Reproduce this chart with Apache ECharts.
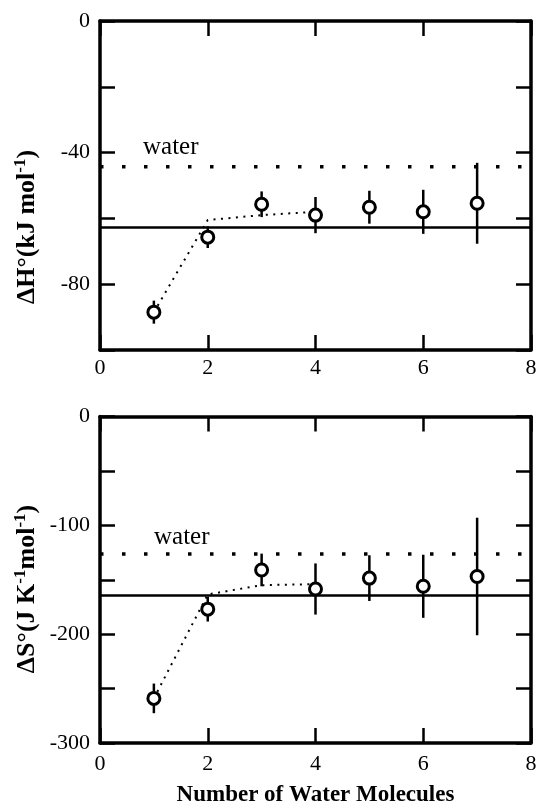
<!DOCTYPE html>
<html>
<head>
<meta charset="utf-8">
<script src="https://cdn.jsdelivr.net/npm/echarts@6/dist/echarts.min.js"></script>
<style>
  html, body { margin: 0; padding: 0; background: #fff; }
  #chart { width: 542px; height: 808px; }
</style>
</head>
<body>
<div id="chart"></div>
<script>
// Number of water molecules in the cluster
const waterCounts = [1, 2, 3, 4, 5, 6, 7];

// Enthalpy of each hydration step (kJ/mol) and its uncertainty
const enthalpy = [-88.5, -65.7, -55.7, -59.0, -56.6, -58.0, -55.4];
const enthalpyErr = [3.5, 3.3, 3.9, 5.5, 5.0, 6.7, 12.3];

// Entropy of each hydration step (J/K/mol) and its uncertainty
const entropy = [-259, -177, -141, -158.5, -148.5, -156, -147];
const entropyErr = [13.6, 11.4, 15, 23.5, 21, 29, 54];

// Dotted guide through the first steps
const fitCounts = [1, 2, 3, 4];
const enthalpyFit = [-88.5, -60.5, -59, -58];
const entropyFit = [-259, -163.5, -155, -154];

// Reference levels: bulk water (dotted) and limiting value (solid)
const waterEnthalpy = -44.3;
const limitEnthalpy = -62.8;
const waterEntropy = -126.4;
const limitEntropy = -164.5;

// Tick labels
const xTickLabels = [0, 2, 4, 6, 8];
const enthalpyTickLabels = [0, -40, -80];
const entropyTickLabels = [0, -100, -200, -300];

const SERIF = '"Liberation Serif", "Times New Roman", serif';
const BLACK = '#000';

function frameAxes(gridIndex, yMin, yInterval, yLabels, xLabelMargin, xName) {
  const line = { onZero: false, lineStyle: { color: BLACK, width: 3.5 } };
  const tick = { inside: true, length: 15, lineStyle: { color: BLACK, width: 2.5 } };
  const label = {
    color: BLACK, fontFamily: SERIF, fontSize: 22
  };
  const x = [
    {
      gridIndex, type: 'value', min: 0, max: 8, interval: 2, position: 'bottom',
      axisLine: line, axisTick: tick, splitLine: { show: false },
      axisLabel: Object.assign({ margin: xLabelMargin, formatter: v => xTickLabels.includes(v) ? String(v) : '' }, label),
      name: xName || '', nameLocation: 'middle', nameGap: 41,
      nameTextStyle: { color: BLACK, fontFamily: SERIF, fontSize: 23, fontWeight: 'bold' }
    },
    {
      gridIndex, type: 'value', min: 0, max: 8, interval: 2, position: 'top',
      axisLine: line, axisTick: tick, splitLine: { show: false },
      axisLabel: { show: false }
    }
  ];
  const y = [
    {
      gridIndex, type: 'value', min: yMin, max: 0, interval: yInterval, position: 'left',
      axisLine: line, axisTick: tick, splitLine: { show: false },
      axisLabel: Object.assign({ margin: 10, formatter: v => yLabels.includes(v) ? String(v) : '' }, label)
    },
    {
      gridIndex, type: 'value', min: yMin, max: 0, interval: yInterval, position: 'right',
      axisLine: line, axisTick: tick, splitLine: { show: false },
      axisLabel: { show: false }
    }
  ];
  return { x, y };
}

function panelSeries(panel, values, errors, fit, waterLevel, limitLevel) {
  const axes = { xAxisIndex: panel * 2, yAxisIndex: panel * 2 };
  return [
    Object.assign({
      type: 'line', data: [[0, waterLevel], [8, waterLevel]], symbol: 'none', silent: true,
      lineStyle: { color: BLACK, width: 3.5, type: [3.5, 18.5] }, z: 2
    }, axes),
    Object.assign({
      type: 'line', data: [[0, limitLevel], [8, limitLevel]], symbol: 'none', silent: true,
      lineStyle: { color: BLACK, width: 2.5 }, z: 2
    }, axes),
    Object.assign({
      type: 'line', data: fitCounts.map((n, i) => [n, fit[i]]), symbol: 'none', silent: true,
      lineStyle: { color: BLACK, width: 2, type: [2, 5.5] }, z: 3
    }, axes),
    Object.assign({
      type: 'custom', z: 4, silent: true,
      data: waterCounts.map((n, i) => [n, values[i] - errors[i], values[i] + errors[i]]),
      encode: { x: 0, y: [1, 2] },
      renderItem: (params, api) => {
        const p1 = api.coord([api.value(0), api.value(1)]);
        const p2 = api.coord([api.value(0), api.value(2)]);
        return {
          type: 'line',
          shape: { x1: p1[0], y1: p1[1], x2: p2[0], y2: p2[1] },
          style: { stroke: BLACK, lineWidth: 2.5 }
        };
      }
    }, axes),
    Object.assign({
      type: 'scatter', z: 5, symbol: 'circle', symbolSize: 12,
      data: waterCounts.map((n, i) => [n, values[i]]),
      itemStyle: { color: '#fff', borderColor: BLACK, borderWidth: 3, opacity: 1 }
    }, axes)
  ];
}

const upperAxes = frameAxes(0, -100, 20, enthalpyTickLabels, 7);
const lowerAxes = frameAxes(1, -300, 50, entropyTickLabels, 10, 'Number of Water Molecules');

const nameRich = {
  b: { fontFamily: SERIF, fontSize: 26, fontWeight: 'bold', fill: BLACK, lineHeight: 30 },
  sup: { fontFamily: SERIF, fontSize: 17, fontWeight: 'bold', fill: BLACK, verticalAlign: 'top', lineHeight: 30 }
};

const option = {
  animation: false,
  backgroundColor: '#fff',
  grid: [
    { left: 100, width: 431, top: 21, height: 329 },
    { left: 100, width: 431, top: 416.5, height: 330 }
  ],
  xAxis: upperAxes.x.concat(lowerAxes.x),
  yAxis: upperAxes.y.concat(lowerAxes.y),
  graphic: [
    {
      type: 'text', x: 27, y: 227, rotation: Math.PI / 2,
      style: {
        text: '{b|ΔH°(kJ mol}{sup|-1}{b|)}', rich: nameRich,
        align: 'center', verticalAlign: 'middle'
      }
    },
    {
      type: 'text', x: 27, y: 589, rotation: Math.PI / 2,
      style: {
        text: '{b|ΔS°(J K}{sup|-1}{b|mol}{sup|-1}{b|)}', rich: nameRich,
        align: 'center', verticalAlign: 'middle'
      }
    },
    {
      type: 'text', x: 143, y: 147,
      style: { text: 'water', font: '25px ' + SERIF, fill: BLACK, verticalAlign: 'middle' }
    },
    {
      type: 'text', x: 154, y: 537,
      style: { text: 'water', font: '25px ' + SERIF, fill: BLACK, verticalAlign: 'middle' }
    }
  ],
  series: panelSeries(0, enthalpy, enthalpyErr, enthalpyFit, waterEnthalpy, limitEnthalpy)
    .concat(panelSeries(1, entropy, entropyErr, entropyFit, waterEntropy, limitEntropy))
};

const chart = echarts.init(document.getElementById('chart'), null, { renderer: 'canvas' });
chart.setOption(option);
</script>
</body>
</html>
